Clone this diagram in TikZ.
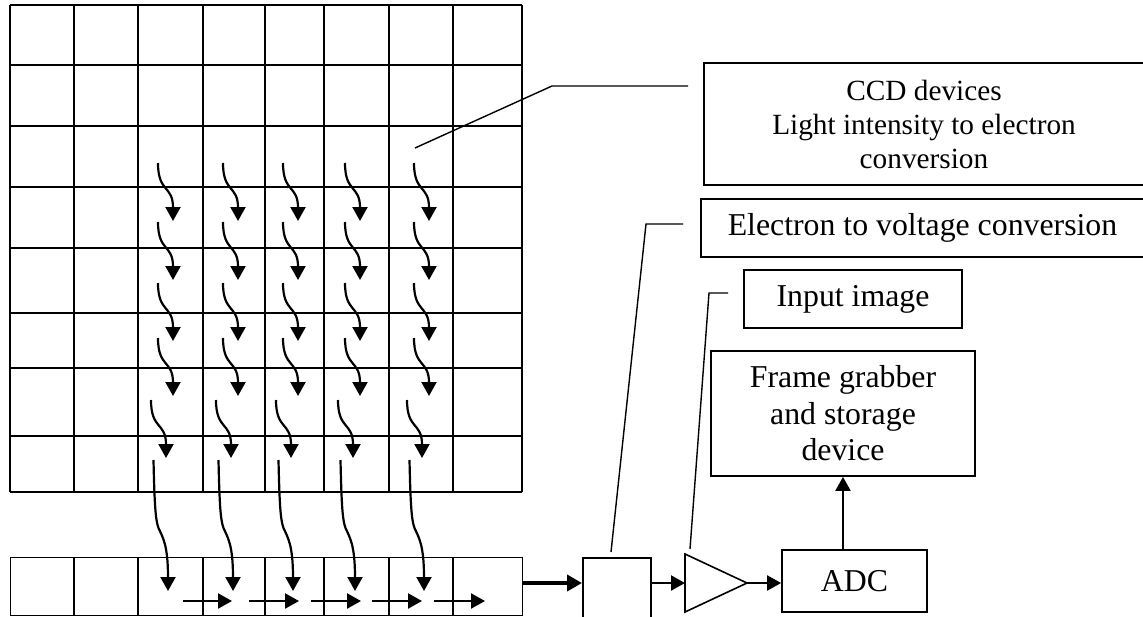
\documentclass[tikz,border=0pt]{standalone}
\usepackage{fontspec}
\setmainfont{Liberation Serif}
\usetikzlibrary{arrows.meta,calc}
\begin{document}
\begin{tikzpicture}[x=1pt,y=-1pt,
  gridline/.style={line width=1.4pt},
  box/.style={draw, line width=1.8pt, inner sep=0pt, align=center},
  leader/.style={line width=1.4pt},
  arr/.style={line width=2.2pt, -{Triangle[length=14pt,width=15pt]}},
  thickarr/.style={line width=4pt, -{Triangle[length=15pt,width=16pt]}},
  big/.style={font=\fontsize{31.8}{36.5}\selectfont},
  smalltext/.style={font=\fontsize{29.3}{34}\selectfont}]

\useasboundingbox (0,0) rectangle (1143,616);
\clip (0,0) rectangle (1143,616);

% CCD grid
\foreach \x in {10,74,138,203,265,324,389,453,522}
  \draw[gridline] (\x,5) -- (\x,492);
\foreach \y in {5,65,126,187,248,313,368,436,492}
  \draw[gridline] (10,\y) -- (522,\y);

% horizontal shift register
\node[draw, line width=1.4pt, minimum width=512pt, minimum height=58pt,
      inner sep=0pt, anchor=north west] (reg) at (10,557) {};
\foreach \x in {74,138,203,265,324,389,453}
  \draw[gridline] (\x,557) -- (\x,615);

% charge transfer arrows inside the grid
\foreach \sx in {158,223,283,345,414} {
  \foreach \sy in {163,222,283,338} {
    \draw[arr] (\sx,\sy) .. controls (\sx,\sy+30) and (\sx+15,\sy+22) .. (\sx+15,\sy+58);
  }
  \draw[arr] (\sx-7,400) .. controls (\sx-7,430) and (\sx+8,422) .. (\sx+8,458);
  \draw[arr] (\sx-4.5,460) .. controls (\sx-3.5,505) and (\sx-2.5,520) .. (\sx+0.5,528)
             .. controls (\sx+5,538) and (\sx+10,545) .. (\sx+10,591);
}

% arrows along the register
\foreach \a/\b in {183/232,249/299,311/361,372/422,434/485}
  \draw[arr] (\a,601) -- (\b,601);

% signal chain
\coordinate (sig) at (0,583);
\node[box, minimum width=68pt, minimum height=80pt, anchor=north west] (sb) at (582,557) {};
\draw[thickarr] (reg.east |- sig) -- (sb.west |- sig);

\draw[line width=1.6pt] (685,554) coordinate (ampt) -- (747,583) coordinate (amp)
      -- (685,612) coordinate (ampb) -- cycle;
\coordinate (ampin) at (685,583);
\draw[arr] (sb.east |- sig) -- (ampin);

\node[box, big, minimum width=145pt, minimum height=62pt] (adc) at (854.5,581) {ADC};
\draw[arr] (amp) -- (adc.west |- amp);

\node[box, big, minimum width=264pt, minimum height=125pt] (fg) at (843,413.5)
  {Frame grabber\\and storage\\device};
\draw[arr] (adc.north -| fg.south) -- (fg.south);

\node[box, big, minimum width=218pt, minimum height=58pt] (inp) at (853,299) {Input image};
\node[box, big, minimum width=443pt, minimum height=58pt] (etv) at (922.5,228)
  {Electron to voltage conversion};
\node[box, smalltext, minimum width=440pt, minimum height=122pt] (ccd) at (924,124)
  {CCD devices\\Light intensity to electron\\conversion};

% leader lines
\coordinate (c1) at (415,148); \coordinate (c2) at (552,86); \coordinate (c3) at (688,86);
\draw[leader] (c1) -- (c2) -- (c3);
\coordinate (e1) at (611,552); \coordinate (e2) at (646,224); \coordinate (e3) at (683,224);
\draw[leader] (e1) -- (e2) -- (e3);
\coordinate (i1) at (690,549); \coordinate (i2) at (709,293); \coordinate (i3) at (728,293);
\draw[leader] (i1) -- (i2) -- (i3);
\end{tikzpicture}
\end{document}
